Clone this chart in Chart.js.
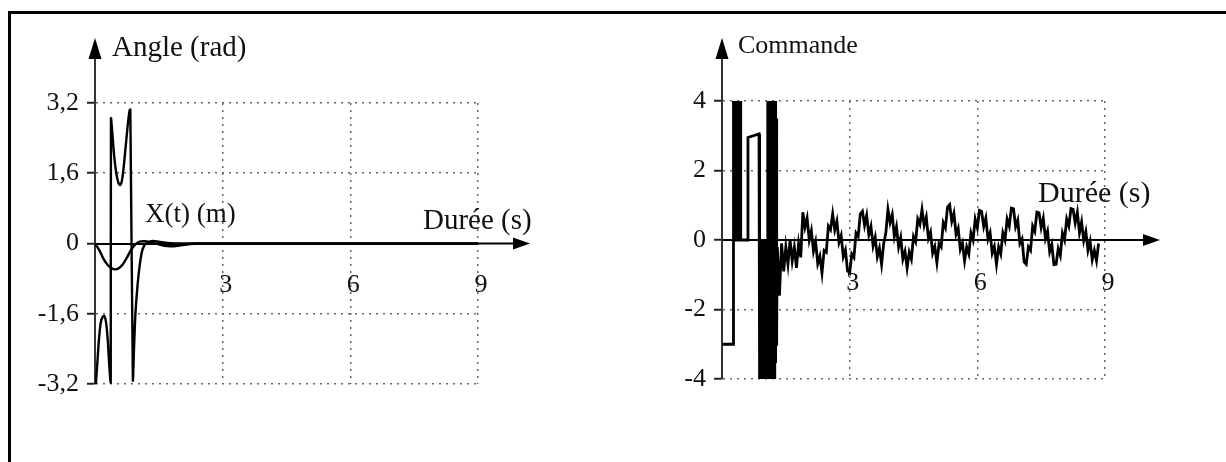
<!DOCTYPE html>
<html>
<head>
<meta charset="utf-8">
<script src="https://cdn.jsdelivr.net/npm/chart.js@4.4.0/dist/chart.umd.min.js"></script>
<style>
  body { margin: 0; background: #fff; overflow: hidden; }
  #frame { position: absolute; left: 8px; top: 11px; width: 1300px; height: 500px;
           border-left: 3px solid #000; border-top: 3px solid #000; }
  .box { position: absolute; top: 0; width: 613px; height: 462px; }
</style>
</head>
<body>
<div id="frame"></div>
<div class="box" style="left:0"><canvas id="chartAngle" width="613" height="462"></canvas></div>
<div class="box" style="left:613px"><canvas id="chartCommande" width="613" height="462"></canvas></div>
<script>
// ---- left panel : angle (rad) and X(t) (m) vs time (s)
const angleTime  = [0.02, 0.05, 0.08, 0.11, 0.14, 0.18, 0.22, 0.26, 0.30, 0.33, 0.36, 0.37, 0.375, 0.40, 0.45, 0.50, 0.55, 0.59, 0.63, 0.67,
                    0.72, 0.77, 0.81, 0.83, 0.89, 0.92, 0.95, 1.00, 1.05, 1.10, 1.15, 1.20, 1.26, 1.35, 1.50, 1.70, 2.00, 3.00, 9.00];
const angleValue = [-3.2, -2.8, -2.35, -2.0, -1.78, -1.67, -1.65, -1.8, -2.2, -2.7, -3.1, -3.17, 2.85, 2.6, 2.0, 1.6, 1.38, 1.33, 1.42, 1.7,
                    2.2, 2.7, 3.02, 3.05, -3.12, -2.3, -1.6, -0.95, -0.5, -0.2, -0.06, 0.0, 0.03, 0.06, 0.04, 0.01, 0.0, 0.0, 0.0];

const posTime  = [0, 0.1, 0.2, 0.3, 0.4, 0.47, 0.55, 0.65, 0.75, 0.85, 0.95, 1.05, 1.15, 1.3, 1.5, 1.7, 1.9, 2.1, 2.4, 9];
const posValue = [0, -0.15, -0.35, -0.49, -0.57, -0.59, -0.57, -0.48, -0.32, -0.14, -0.02, 0.04, 0.05, 0.03, -0.02, -0.06, -0.06, -0.03, 0, 0];

// ---- right panel : commande vs time (s)
// first phase (saturated / bang-bang)
const cmdEdgeTime  = [0, 0.26, 0.26, 0.27, 0.28, 0.29, 0.30, 0.31, 0.32, 0.33, 0.34, 0.35, 0.36, 0.37, 0.38, 0.39, 0.40, 0.41, 0.42, 0.43, 0.44,
                      0.61, 0.61, 0.87, 0.87, 0.89, 0.89, 0.90, 0.91, 0.92, 0.93, 0.94, 0.95, 0.96, 0.97, 0.98, 0.99, 1.00, 1.01, 1.02, 1.03,
                      1.04, 1.05, 1.06, 1.07, 1.08, 1.09, 1.10, 1.11, 1.12, 1.13, 1.14, 1.15, 1.16, 1.17, 1.18, 1.19, 1.20, 1.21, 1.22, 1.23,
                      1.24, 1.25, 1.26, 1.27, 1.28, 1.29];
const cmdEdgeValue = [-3, -3, 4, 4, 0, 4, 4, 0, 4, 0, 4, 4, 0, 4, 4, 0, 4, 0, 4, 4, 0,
                      0, 2.95, 3.05, 0, 0, -4, -0.2, -4, 0, -4, -0.3, -4, 0, -4, -0.1, -4, 0, -4, -0.2, -4,
                      0, -4, -0.3, -4, 4, -4, 4, -4, 4, -4, 4, -4, 4, -4, 4, -4, 4, -4, 4, -4,
                      4, -3.5, 4, -3, 3.5, -2.5];
// second phase, sampled every 0.05 s from 1.30 s
const cmdNoiseStart = 1.30;
const cmdNoiseStep = 0.05;
const cmdNoiseValue = [
  -0.2, -1.6, -0.1, -0.9, -0.2, -0.7, 0.0, -0.6, -0.2, -0.8, -0.1, -0.5,
  0.8, 0.37, 0.63, 0.0, 0.27, -0.32, -0.05, -0.68, -0.47, -0.95,
  -0.3, -0.35, 0.4, 0.3, 0.75,
  0.29, 0.54, -0.07, 0.13, -0.48, -0.29, -0.89, -0.95,
  -0.4, -0.5, 0.2, 0.1, 0.75, 0.83,
  0.42, 0.71, 0.15, 0.39, -0.17, 0.08, -0.48, -0.24, -0.7,
  -0.1, 0.2, 0.88,
  0.5, 0.73, 0.1, 0.38, -0.2, 0.07, -0.55, -0.33, -0.8,
  -0.35, -0.55, 0.1, -0.05, 0.6, 0.45, 0.88,
  0.42, 0.66, 0.05, 0.23, -0.38, -0.19, -0.65,
  -0.1, -0.2, 0.5, 0.35, 0.95, 1.02,
  0.54, 0.77, 0.16, 0.34, -0.27, -0.09, -0.6,
  -0.2, -0.4, 0.2, 0.0, 0.6, 0.35, 0.85, 0.82,
  0.39, 0.63, 0.02, 0.21, -0.38, -0.19, -0.7,
  -0.2, -0.4, 0.2, 0.0, 0.6, 0.4, 0.92, 0.9,
  0.38, 0.57, -0.1, 0.03, -0.63, -0.7,
  -0.2, -0.3, 0.4, 0.25, 0.8, 0.78,
  0.36, 0.63, 0.04, 0.25, -0.34, -0.13, -0.71, -0.7,
  -0.25, -0.45, 0.2, 0.0, 0.6, 0.4, 0.9, 0.88,
  0.49, 0.8, 0.21, 0.52, -0.02, 0.24, -0.3, -0.04, -0.57, -0.3, -0.6, -0.1
];

const xTicks = [3, 6, 9];
const angleTicks = [-3.2, -1.6, 0, 1.6, 3.2];
const cmdTicks = [-4, -2, 0, 2, 4];

Chart.defaults.font.family = "'Liberation Serif', 'Times New Roman', serif";
Chart.defaults.color = '#111';

function toPoints(xs, ys) {
  return xs.map((t, i) => ({ x: t, y: ys[i] }));
}

let cmdPoints = toPoints(cmdEdgeTime, cmdEdgeValue);
cmdNoiseValue.forEach((v, i) => {
  cmdPoints.push({ x: +(cmdNoiseStart + i * cmdNoiseStep).toFixed(2), y: v });
});

// axis arrows + free text labels
const axisDecor = {
  id: 'axisDecor',
  afterDraw(chart, args, opts) {
    const { ctx, chartArea } = chart;
    const ox = chart.scales.x.getPixelForValue(0);
    const oy = chart.scales.y.getPixelForValue(0);
    ctx.save();
    ctx.fillStyle = '#000';
    ctx.strokeStyle = '#000';
    ctx.lineWidth = 2;
    // horizontal axis beyond the grid
    let xEnd = chartArea.right + opts.xExtend;
    ctx.beginPath();
    ctx.moveTo(chartArea.right, oy);
    ctx.lineTo(xEnd - 8, oy);
    ctx.stroke();
    ctx.beginPath();
    ctx.moveTo(xEnd, oy);
    ctx.lineTo(xEnd - 17, oy - 6);
    ctx.lineTo(xEnd - 17, oy + 6);
    ctx.closePath();
    ctx.fill();
    // vertical axis up to arrow
    ctx.strokeStyle = '#333';
    ctx.beginPath();
    ctx.moveTo(ox, chartArea.top);
    ctx.lineTo(ox, opts.yTip + 8);
    ctx.stroke();
    ctx.beginPath();
    ctx.moveTo(ox, opts.yTip);
    ctx.lineTo(ox - 6.5, opts.yTip + 21);
    ctx.lineTo(ox + 6.5, opts.yTip + 21);
    ctx.closePath();
    ctx.fill();
    // labels
    ctx.fillStyle = '#111';
    ctx.textBaseline = 'middle';
    ctx.textAlign = 'left';
    opts.labels.forEach(l => {
      ctx.font = l.size + "px 'Liberation Serif', serif";
      ctx.fillText(l.text, l.x, l.y);
    });
    ctx.restore();
  }
};

function fmtComma(v) {
  if (Math.abs(v) < 1e-9) return '0';
  return Number.isInteger(v) ? String(v) : v.toFixed(1).replace('.', ',');
}

function makeOptions(yMin, yMax, yTickVals, area, decor) {
  return {
    responsive: false,
    animation: false,
    events: [],
    layout: { padding: { left: 0, top: area.top, right: area.right, bottom: area.bottom } },
    plugins: { legend: { display: false }, tooltip: { enabled: false }, axisDecor: decor },
    scales: {
      x: {
        type: 'linear',
        min: 0, max: 9,
        position: { y: 0 },
        afterBuildTicks: s => { s.ticks = [0].concat(xTicks).map(v => ({ value: v })); },
        ticks: {
          autoSkip: false, maxRotation: 0, padding: area.xLabelPad, labelOffset: 3,
          font: { size: 26 },
          callback: v => (v === 0 ? '' : String(v))
        },
        grid: {
          drawTicks: false,
          lineWidth: 1.5,
          color: c => (c.tick && c.tick.value === 0 ? 'rgba(0,0,0,0)' : '#666')
        },
        border: { display: true, color: '#000', width: 2, dash: [2, 5] }
      },
      y: {
        type: 'linear',
        position: 'left',
        min: yMin, max: yMax,
        afterBuildTicks: s => { s.ticks = yTickVals.map(v => ({ value: v })); },
        afterFit: s => { s.width = area.left; },
        ticks: { padding: 8, font: { size: 26 }, callback: v => fmtComma(v) },
        grid: {
          drawTicks: true, tickLength: 8, tickWidth: 2, tickColor: '#222', tickBorderDash: [],
          lineWidth: 1.5,
          color: c => (c.tick && Math.abs(c.tick.value) < 1e-9 ? 'rgba(0,0,0,0)' : '#666')
        },
        border: { display: true, color: '#333', width: 2, dash: [2, 5] }
      }
    }
  };
}

new Chart(document.getElementById('chartAngle'), {
  type: 'line',
  data: {
    datasets: [
      { data: toPoints(angleTime, angleValue), borderColor: '#000', borderWidth: 2.4, pointRadius: 0, tension: 0.25 },
      { data: toPoints(posTime, posValue), borderColor: '#000', borderWidth: 2.4, pointRadius: 0, tension: 0.3 }
    ]
  },
  options: makeOptions(-3.2, 3.2, angleTicks,
    { left: 95, top: 103, right: 135, bottom: 78, xLabelPad: 26 },
    { xExtend: 52, yTip: 38, labels: [
      { text: 'Angle (rad)', x: 112, y: 48, size: 29 },
      { text: 'X(t) (m)', x: 145, y: 215, size: 27 },
      { text: 'Durée (s)', x: 423, y: 221, size: 29 }
    ] }),
  plugins: [axisDecor]
});

new Chart(document.getElementById('chartCommande'), {
  type: 'line',
  data: {
    datasets: [
      { data: cmdPoints, borderColor: '#000', borderWidth: 2.8, pointRadius: 0, tension: 0 }
    ]
  },
  options: makeOptions(-4, 4, cmdTicks,
    { left: 109, top: 101, right: 121, bottom: 83, xLabelPad: 28 },
    { xExtend: 55, yTip: 38, labels: [
      { text: 'Commande', x: 125, y: 46, size: 26 },
      { text: 'Durée (s)', x: 425, y: 194, size: 30 }
    ] }),
  plugins: [axisDecor]
});
</script>
</body>
</html>
